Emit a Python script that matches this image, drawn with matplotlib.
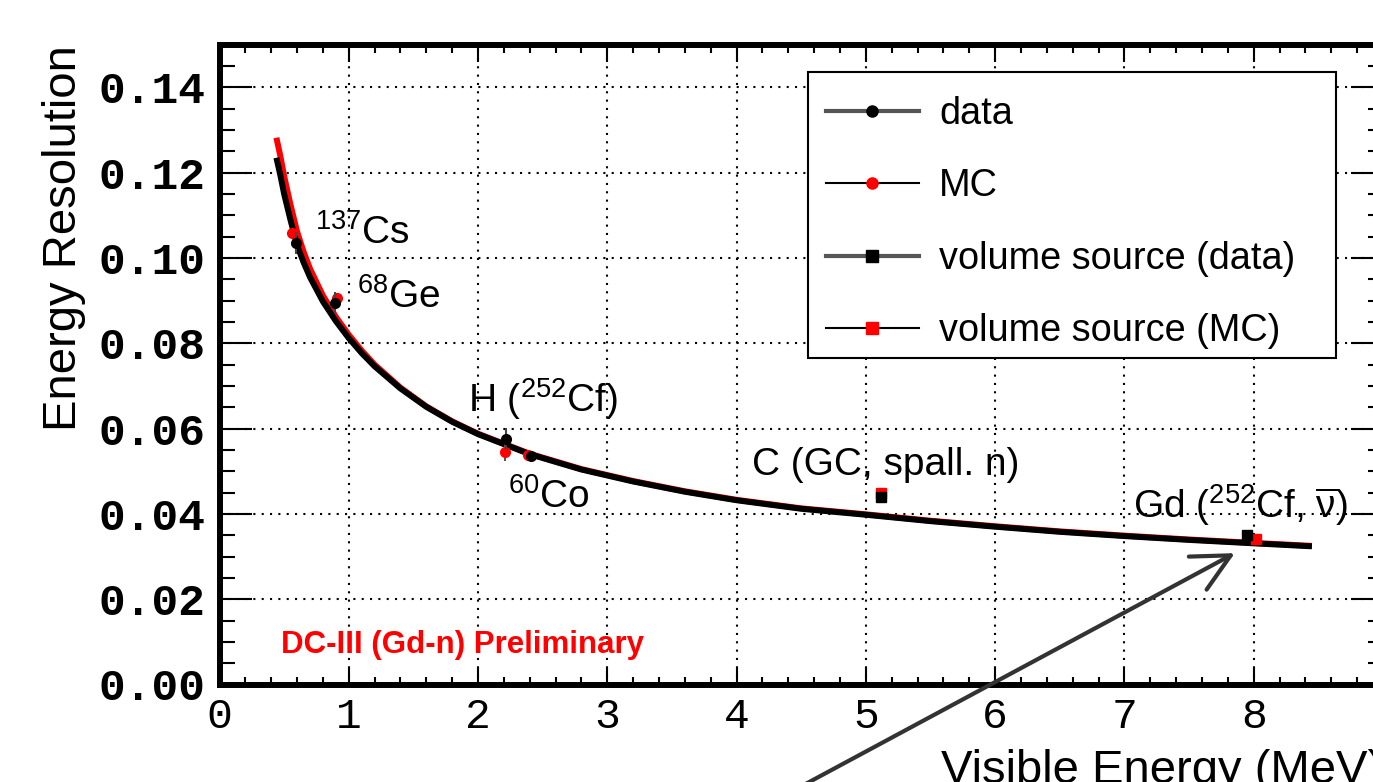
import matplotlib
matplotlib.use('Agg')
import matplotlib.pyplot as plt
from matplotlib.lines import Line2D
from matplotlib.patches import Rectangle
from matplotlib.ticker import MultipleLocator, FormatStrFormatter

plt.rcParams['font.family'] = ['Liberation Sans', 'DejaVu Sans']
plt.rcParams['mathtext.fontset'] = 'custom'
plt.rcParams['mathtext.rm'] = 'Liberation Sans'
plt.rcParams['mathtext.it'] = 'Liberation Sans'
plt.rcParams['mathtext.default'] = 'regular'

# ---- data ----
fit_E = [0.44, 0.47, 0.50, 0.55, 0.60, 0.65, 0.70, 0.80, 0.90, 1.00, 1.10, 1.20, 1.40, 1.60,
         1.80, 2.00, 2.40, 2.80, 3.20, 3.60, 4.00, 4.50, 5.00, 5.50, 6.00, 6.50, 7.00, 7.50,
         8.00, 8.45]
fit_data = [0.1235, 0.1195, 0.1150, 0.1088, 0.1030, 0.0990, 0.0955, 0.0898, 0.0852, 0.0812,
            0.0777, 0.0746, 0.0694, 0.0651, 0.0616, 0.0587, 0.0540, 0.0504, 0.0476, 0.0452,
            0.0432, 0.0412, 0.0398, 0.0383, 0.0370, 0.0358, 0.0348, 0.0339, 0.0331, 0.0324]
fit_mc = [0.1282, 0.1240, 0.1192, 0.1124, 0.1062, 0.1015, 0.0975, 0.0912, 0.0862, 0.0820,
          0.0783, 0.0750, 0.0696, 0.0652, 0.0617, 0.0588, 0.0541, 0.0505, 0.0477, 0.0453,
          0.0433, 0.0413, 0.0399, 0.0384, 0.0371, 0.0359, 0.0349, 0.0340, 0.0332, 0.0325]

src_E = [0.59, 0.893, 2.22, 2.41]
src_data = [0.1035, 0.0895, 0.0576, 0.0536]
src_data_err = [0.0025, 0.0025, 0.0025, 0.0012]
src_mc_E = [0.56, 0.91, 2.21, 2.39]
src_mc = [0.1059, 0.0907, 0.0545, 0.0538]
src_mc_err = [0.0010, 0.0010, 0.0020, 0.0010]

vol_E = [5.12, 7.95]
vol_data = [0.0439, 0.0351]
vol_data_err = [0.0012, 0.0008]
vol_mc_E = [5.12, 8.02]
vol_mc = [0.0448, 0.0341]
vol_mc_err = [0.0008, 0.0006]

labels = [r'$^{137}$Cs', r'$^{68}$Ge', r'H ($^{252}$Cf)', r'$^{60}$Co',
          'C (GC, spall. n)', r'Gd ($^{252}$Cf, $\overline{\nu}$)']
label_pos = [(0.739, 0.1034), (1.061, 0.0882), (1.925, 0.0640), (2.234, 0.0413),
             (4.116, 0.0491), (7.063, 0.0390)]

x_ticks = [0, 1, 2, 3, 4, 5, 6, 7, 8, 9]
y_ticks = [0.00, 0.02, 0.04, 0.06, 0.08, 0.10, 0.12, 0.14]
leg_labels = ['data', 'MC', 'volume source (data)', 'volume source (MC)']

W, H = 1373, 782
fig = plt.figure(figsize=(W / 100, H / 100), dpi=100)
ax = fig.add_axes([219.5 / W, (H - 684.5) / H, (1383 - 219.5) / W, 639.75 / H])
ax.set_xlim(0, 9)
ax.set_ylim(0, 0.15)

# curves
ax.plot(fit_E, fit_mc, color='red', lw=4.3, solid_capstyle='butt', zorder=3)
ax.plot(fit_E, fit_data, color='black', lw=4.3, solid_capstyle='butt', zorder=4)

# points
ax.errorbar(src_mc_E, src_mc, yerr=src_mc_err, fmt='o', color='red', ms=7,
            ecolor='#555555', elinewidth=1.5, capsize=0, zorder=5)
ax.errorbar(src_E, src_data, yerr=src_data_err, fmt='o', color='black', ms=7,
            ecolor='#444444', elinewidth=1.5, capsize=0, zorder=6)
ax.errorbar(vol_mc_E, vol_mc, yerr=vol_mc_err, fmt='s', color='red', ms=7,
            ecolor='#555555', elinewidth=1.5, capsize=0, zorder=5)
ax.errorbar(vol_E, vol_data, yerr=vol_data_err, fmt='s', color='black', ms=7,
            ecolor='#444444', elinewidth=1.5, capsize=0, zorder=6)

# annotations
for t, (x, y) in zip(labels, label_pos):
    ax.text(x, y, t, fontsize=28, ha='left', va='baseline', zorder=7)

ax.text(0.475, 0.0073, 'DC-III (Gd-n) Preliminary', color='red', fontsize=22.5,
        fontweight='bold', ha='left', va='baseline', zorder=7)

ax.annotate('', xy=(7.854, 0.0308), xytext=(4.40, -0.0255),
            arrowprops=dict(arrowstyle='->,head_length=0.9,head_width=0.45',
                            color='#333333', lw=3.0, mutation_scale=30,
                            shrinkA=0, shrinkB=0),
            annotation_clip=False, zorder=8)

# axes styling
ax.xaxis.set_minor_locator(MultipleLocator(0.2))
ax.yaxis.set_minor_locator(MultipleLocator(0.005))
ax.set_xticks(x_ticks)
ax.set_yticks(y_ticks)
ax.yaxis.set_major_formatter(FormatStrFormatter('%.2f'))

for s in ax.spines.values():
    s.set_linewidth(4.3)
ax.tick_params(axis='both', which='both', direction='in', top=True, right=True, width=1.5)
ax.tick_params(axis='x', which='major', length=12, pad=9)
ax.tick_params(axis='x', which='minor', length=6)
ax.tick_params(axis='y', which='major', length=23, pad=10)
ax.tick_params(axis='y', which='minor', length=11)
for lab in ax.get_xticklabels():
    lab.set_fontfamily('Liberation Mono')
    lab.set_fontsize(31)
for lab in ax.get_yticklabels():
    lab.set_fontfamily('Liberation Mono')
    lab.set_fontsize(32)
    lab.set_fontweight('bold')

ax.grid(True, which='major', color='black', linestyle=(0, (1, 3)), lw=1.5)
ax.set_axisbelow(True)

# axis titles (ROOT style, aligned to axis ends)
fig.text(1383 / W, (H - 783) / H, 'Visible Energy (MeV)', fontsize=34,
         ha='right', va='baseline')
fig.text(76 / W, (H - 45) / H, 'Energy Resolution', fontsize=34, rotation=90,
         rotation_mode='anchor', ha='right', va='baseline')

# legend: frame drawn separately, entries via legend()
frame = Rectangle((808 / W, (H - 358) / H), (1336 - 808) / W, (358 - 72) / H,
                  transform=fig.transFigure, facecolor='white', edgecolor='black',
                  lw=1.5, zorder=9)
fig.patches.append(frame)
handles = [
    Line2D([], [], color='#555555', lw=3, marker='o', mfc='black', mec='black', ms=8),
    Line2D([], [], color='black', lw=1.5, marker='o', mfc='red', mec='red', ms=8),
    Line2D([], [], color='#555555', lw=3, marker='s', mfc='black', mec='black', ms=8),
    Line2D([], [], color='black', lw=1.5, marker='s', mfc='red', mec='red', ms=8),
]
leg = fig.legend(handles, leg_labels, loc='upper left',
                 bbox_to_anchor=(826 / W, (H - 96) / H),
                 bbox_transform=fig.transFigure, borderaxespad=0, borderpad=0,
                 fontsize=27.3, frameon=False, handlelength=2.45, handletextpad=0.53,
                 labelspacing=0.96)
leg.set_zorder(10)

fig.savefig('out.png', dpi=100)
